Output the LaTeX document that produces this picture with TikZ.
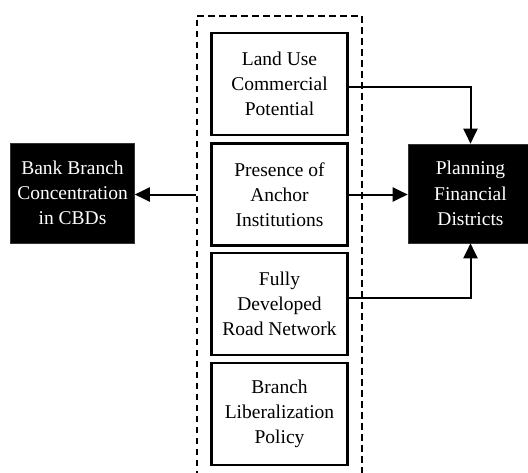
\documentclass[tikz,border=0pt]{standalone}
\usepackage{fontspec}
\setmainfont{Liberation Serif}
\usetikzlibrary{arrows.meta}
\begin{document}
\begin{tikzpicture}[x=1pt,y=-1pt,
  factor/.style={draw, line width=2.6pt, minimum width=136pt, minimum height=102pt, align=center, inner sep=0pt,
    font=\fontsize{19.5}{25.2}\selectfont},
  outcome/.style={fill=black, draw=black!80, line width=0.6pt, text=white, minimum width=124pt, minimum height=100pt, align=center, inner sep=0pt,
    font=\fontsize{19.5}{25.2}\selectfont},
  conn/.style={line width=2pt, -{Triangle[length=15pt,width=14pt]}}]
\useasboundingbox (0,0) rectangle (528,472);
\clip (0,0) rectangle (528,472);
\node[draw, dash pattern=on 6.5pt off 4.5pt, line width=1.6pt, minimum width=165pt, minimum height=480pt, anchor=north west, inner sep=0pt] (grp) at (196,15) {};
\node[factor] (b1) at (279.5,84) {Land Use\\Commercial\\Potential};
\node[factor] (b2) at (279.5,194.5) {Presence of\\Anchor\\Institutions};
\node[factor] (b3) at (279.5,304) {Fully\\Developed\\Road Network};
\node[factor] (b4) at (279.5,414) {Branch\\Liberalization\\Policy};
\node[outcome] (left) at (72.5,193) {Bank Branch\\Concentration\\in CBDs};
\node[outcome, minimum width=125pt, minimum height=99pt] (right) at (470.5,193.5) {Planning\\Financial\\Districts};
\draw[conn] (grp.west |- b2.east) -- (left.east |- b2.east);
\draw[conn] (b2.east) -- (b2.east -| right.west);
\draw[conn] ([yshift=-3pt]b1.east) -| (right.north);
\draw[conn] ([yshift=6pt]b3.east) -| (right.south);
\end{tikzpicture}
\end{document}
